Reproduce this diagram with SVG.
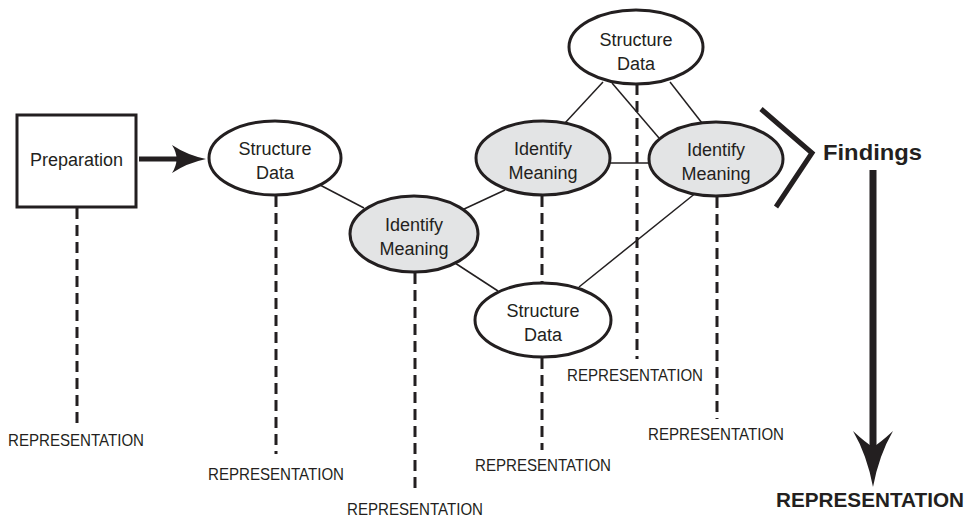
<svg xmlns="http://www.w3.org/2000/svg" width="973" height="519" viewBox="0 0 973 519">
  <style>
    .node { stroke: #231f20; stroke-width: 3; }
    .plain { fill: #ffffff; }
    .shade { fill: #e3e4e5; }
    .lbl { font-family: "Liberation Sans", Arial, sans-serif; font-size: 18px; fill: #231f20; text-anchor: middle; }
    .rep { font-family: "Liberation Sans", Arial, sans-serif; font-size: 16.5px; fill: #231f20; text-anchor: middle; }
    .bold { font-family: "Liberation Sans", Arial, sans-serif; font-weight: bold; fill: #231f20; }
    .link { stroke: #231f20; stroke-width: 1.5; fill: none; }
    .dash { stroke: #231f20; stroke-width: 3; stroke-dasharray: 11 6; fill: none; }
  </style>

  <!-- connectors -->
  <g id="connectors">
    <!-- thin links between nodes -->
    <line class="link" x1="320" y1="185" x2="364" y2="208"/>
    <line class="link" x1="462" y1="210" x2="505" y2="190"/>
    <line class="link" x1="455" y1="263" x2="498" y2="291"/>
    <line class="link" x1="603" y1="82" x2="565" y2="123"/>
    <line class="link" x1="612" y1="83" x2="659" y2="138"/>
    <line class="link" x1="670" y1="82" x2="702" y2="123"/>
    <line class="link" x1="610" y1="163" x2="649" y2="163"/>
    <line class="link" x1="579" y1="287" x2="697" y2="192"/>

    <!-- dashed drops to representation labels -->
    <line class="dash" x1="77" y1="208" x2="77" y2="423"/>
    <line class="dash" x1="276" y1="196" x2="276" y2="454"/>
    <line class="dash" x1="415" y1="273" x2="415" y2="493"/>
    <line class="dash" x1="542" y1="196" x2="542" y2="283"/>
    <line class="dash" x1="542" y1="358" x2="542" y2="450"/>
    <line class="dash" x1="637" y1="84" x2="637" y2="359"/>
    <line class="dash" x1="717" y1="197" x2="717" y2="419"/>

    <!-- preparation arrow -->
    <line x1="139" y1="159" x2="182" y2="159" stroke="#231f20" stroke-width="5"/>
    <path d="M172,145 Q187,155 206,159 Q187,163 172,173 Q181,159 172,145 Z" fill="#231f20"/>

    <!-- findings bracket -->
    <polyline points="761,109 812,153 776,207" fill="none" stroke="#231f20" stroke-width="5" stroke-linejoin="miter"/>

    <!-- findings to representation arrow -->
    <line x1="873" y1="170" x2="873" y2="450" stroke="#231f20" stroke-width="7"/>
    <path d="M853,431 Q866,443 873,447 Q880,443 893,431 Q879,455 873,487 Q867,455 853,431 Z" fill="#231f20"/>
  </g>

  <g id="preparation">
    <rect class="node plain" x="17" y="115" width="119" height="92"/>
    <text class="lbl" x="76.5" y="166">Preparation</text>
  </g>

  <g id="structure-data-1">
    <ellipse class="node plain" cx="275" cy="158" rx="66" ry="37"/>
    <text class="lbl" x="275" y="155">Structure</text>
    <text class="lbl" x="275" y="179">Data</text>
  </g>

  <g id="identify-meaning-1">
    <ellipse class="node shade" cx="414" cy="234" rx="64" ry="38"/>
    <text class="lbl" x="414" y="231">Identify</text>
    <text class="lbl" x="414" y="255">Meaning</text>
  </g>

  <g id="identify-meaning-2">
    <ellipse class="node shade" cx="543" cy="158" rx="67" ry="37"/>
    <text class="lbl" x="543" y="155">Identify</text>
    <text class="lbl" x="543" y="179">Meaning</text>
  </g>

  <g id="structure-data-top">
    <ellipse class="node plain" cx="636" cy="47" rx="67" ry="37"/>
    <text class="lbl" x="636" y="46">Structure</text>
    <text class="lbl" x="636" y="70">Data</text>
  </g>

  <g id="identify-meaning-3">
    <ellipse class="node shade" cx="716" cy="159" rx="67" ry="37"/>
    <text class="lbl" x="716" y="156">Identify</text>
    <text class="lbl" x="716" y="180">Meaning</text>
  </g>

  <g id="structure-data-bottom">
    <ellipse class="node plain" cx="543" cy="320" rx="68" ry="37"/>
    <text class="lbl" x="543" y="317">Structure</text>
    <text class="lbl" x="543" y="341">Data</text>
  </g>

  <g id="representation-labels">
    <text class="rep" x="76" y="446" textLength="136" lengthAdjust="spacingAndGlyphs">REPRESENTATION</text>
    <text class="rep" x="276" y="480" textLength="136" lengthAdjust="spacingAndGlyphs">REPRESENTATION</text>
    <text class="rep" x="415" y="515" textLength="136" lengthAdjust="spacingAndGlyphs">REPRESENTATION</text>
    <text class="rep" x="543" y="471" textLength="136" lengthAdjust="spacingAndGlyphs">REPRESENTATION</text>
    <text class="rep" x="635" y="381" textLength="136" lengthAdjust="spacingAndGlyphs">REPRESENTATION</text>
    <text class="rep" x="716" y="440" textLength="136" lengthAdjust="spacingAndGlyphs">REPRESENTATION</text>
  </g>

  <g id="findings">
    <text class="bold" x="823" y="160" font-size="22" textLength="99" lengthAdjust="spacingAndGlyphs">Findings</text>
  </g>

  <g id="representation-final">
    <text class="bold" x="776" y="507" font-size="21" textLength="188" lengthAdjust="spacingAndGlyphs">REPRESENTATION</text>
  </g>
</svg>
